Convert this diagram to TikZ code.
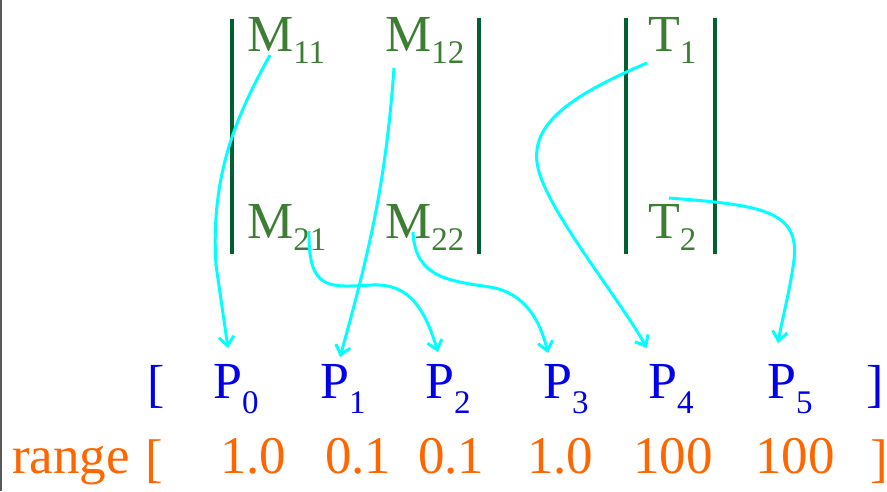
\documentclass[tikz,border=0pt]{standalone}
\usepackage{fontspec}
\setmainfont{Liberation Serif}
\usetikzlibrary{arrows.meta}
\definecolor{bargreen}{RGB}{0,96,48}
\definecolor{txtgreen}{RGB}{62,125,52}
\definecolor{pblue}{RGB}{0,0,235}
\definecolor{rorange}{RGB}{255,102,0}
\definecolor{arrcyan}{RGB}{0,255,255}
\newcommand\sbs[2][13pt]{\raisebox{-#1}{\fontsize{33}{36}\selectfont #2}}
\tikzset{
  lbl/.style={anchor=base west, inner sep=0pt, font=\fontsize{52}{60}\selectfont},
  mlbl/.style={lbl, text=txtgreen},
  plbl/.style={lbl, text=pblue},
  rlbl/.style={lbl, text=rorange, font=\fontsize{53}{60}\selectfont},
  bar/.style={draw=bargreen, line width=3.4pt},
  link/.style={draw=arrcyan, line width=3pt, -{Straight Barb[length=9pt,width=15pt,line width=3pt]}}
}
\begin{document}
\begin{tikzpicture}[x=1pt,y=-1pt]
\useasboundingbox (0,0) rectangle (887,491);
\draw[gray!70!black, line width=2pt] (1,0) -- (1,491);
% bars
\draw[bar] (232,19) -- (232,254);
\draw[bar] (479,18) -- (479,254);
\draw[bar] (626,18) -- (626,254);
\draw[bar] (715,18) -- (715,254);
% matrix labels
\node[mlbl] (m11) at (247,51) {M\sbs[12pt]{11}};
\node[mlbl] (m12) at (385,51) {M\sbs[12pt]{12}};
\node[mlbl] (m21) at (247,238) {M\sbs[12pt]{21}};
\node[mlbl] (m22) at (385,238) {M\sbs[12pt]{22}};
\node[mlbl] (t1) at (648,51) {T\sbs[12pt]{1}};
\node[mlbl] (t2) at (648,238) {T\sbs[12pt]{2}};
% P row
\node[plbl] (plb) at (147,401) {[};
\node[plbl] (p0) at (213,398) {P\sbs[15pt]{0}};
\node[plbl] (p1) at (320,398) {P\sbs[15pt]{1}};
\node[plbl] (p2) at (425,398) {P\sbs[15pt]{2}};
\node[plbl] (p3) at (543,398) {P\sbs[15pt]{3}};
\node[plbl] (p4) at (648,398) {P\sbs[15pt]{4}};
\node[plbl] (p5) at (767,398) {P\sbs[15pt]{5}};
\node[plbl] (prb) at (866,401) {]};
% range row
\node[rlbl] (rng) at (12,473) {range};
\node[rlbl] (rlb) at (145,476) {[};
\node[rlbl] (r0) at (220,473) {1.0};
\node[rlbl] (r1) at (325,473) {0.1};
\node[rlbl] (r2) at (418,473) {0.1};
\node[rlbl] (r3) at (527,473) {1.0};
\node[rlbl] (r4) at (633,473) {100};
\node[rlbl] (r5) at (755,473) {100};
\node[rlbl] (rrb) at (870,476) {]};
% connectors
\draw[link] ([shift={(23,4)}]m11.base west) .. controls (240,110) and (210,170) .. (216,265) -- ([shift={(15,-50)}]p0.base west);
\draw[link] ([shift={(9,17)}]m12.base west) .. controls (386,180) and (370,250) .. ([shift={(20,-41)}]p1.base west);
\draw[link] ([shift={(62,-7)}]m21.base west) .. controls (308,292) and (330,287) .. (372,285) .. controls (410,283) and (425,310) .. ([shift={(13,-46)}]p2.base west);
\draw[link] ([shift={(28,-6)}]m22.base west) .. controls (415,278) and (450,281) .. (490,287) .. controls (525,293) and (540,320) .. ([shift={(5,-45)}]p3.base west);
\draw[link] ([shift={(-1,12)}]t1.base west) .. controls (560,100) and (525,130) .. (540,175) .. controls (555,220) and (620,300) .. ([shift={(-1,-50)}]p4.base west);
\draw[link] ([shift={(21,-40)}]t2.base west) .. controls (760,205) and (800,210) .. (794,260) .. controls (790,290) and (782,320) .. ([shift={(11,-55)}]p5.base west);
\end{tikzpicture}
\end{document}
